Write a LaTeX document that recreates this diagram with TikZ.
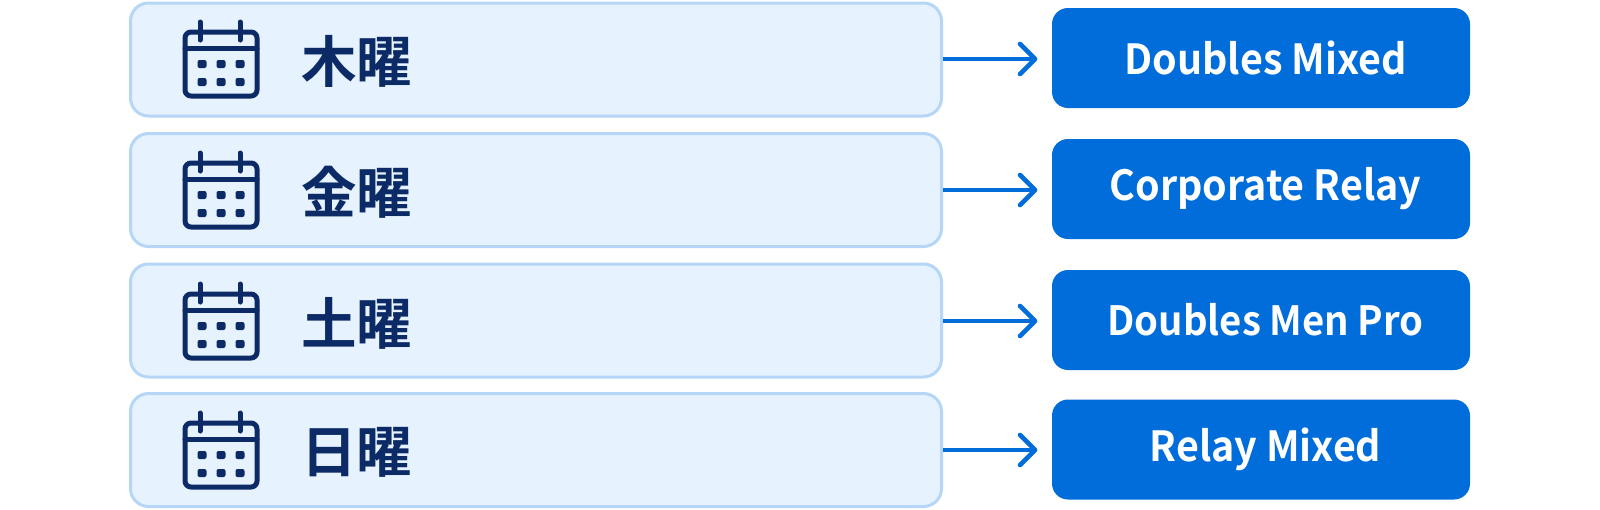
\documentclass[tikz,border=0pt]{standalone}
\usepackage{fontspec}
\setmainfont{Noto Sans CJK JP}
\newfontfamily\cjkb{Noto Sans CJK JP Bold}
\newfontfamily\latb[FakeStretch=0.95]{Noto Sans CJK JP Bold}
\definecolor{navy}{HTML}{0B2A66}
\definecolor{blue}{HTML}{016DDA}
\definecolor{boxfill}{HTML}{E6F2FD}
\definecolor{boxline}{HTML}{B5D6F7}
\tikzset{
  x=1pt,y=-1pt,
  daybox/.style={draw=boxline,fill=boxfill,line width=3pt,rounded corners=18pt,minimum width=811pt,minimum height=113pt,anchor=center,inner sep=0pt},
  evbox/.style={fill=blue,rounded corners=16pt,minimum width=418pt,minimum height=100pt,anchor=center,inner sep=0pt,text=white,font=\fontsize{41.5}{41.5}\latb},
  daylabel/.style={text=navy,font=\fontsize{55.5}{55.5}\cjkb,anchor=west,inner sep=0pt},
  conn/.style={draw=blue,line width=3.6pt},
  tipline/.style={draw=blue,line width=4.6pt,line cap=round,line join=round},
  calline/.style={draw=navy,line width=5pt,line cap=round,line join=round},
}
\newcommand{\calicon}[2]{%
  \begin{scope}[shift={(#1,#2)}]
    \draw[calline,rounded corners=6pt] (-36,-28) rectangle (36,36);
    \draw[calline] (-36,-12) -- (36,-12);
    \draw[calline] (-21,-38) -- (-21,-20);
    \draw[calline] (19,-38) -- (19,-20);
    \foreach \px in {-19,0,19}{\foreach \py in {4,22}{
      \fill[navy,rounded corners=2pt] (\px-4.5,\py-4) rectangle (\px+4.5,\py+4);
    }}
  \end{scope}}
\begin{document}
\begin{tikzpicture}
\useasboundingbox (0,0) rectangle (1600,509);
\node[daybox] (d1) at (536,59.5) {};
\node[daybox] (d2) at (536,190) {};
\node[daybox] (d3) at (536,320.5) {};
\node[daybox] (d4) at (536,450) {};
\node[evbox] (e1) at (1261,58) {\hspace{9pt}\raisebox{-1.5pt}{Doubles Mixed}};
\node[evbox] (e2) at (1261,189) {\hspace{9pt}\raisebox{-1.5pt}{Corporate Relay}};
\node[evbox] (e3) at (1261,320) {\hspace{9pt}\raisebox{-1.5pt}{\fontsize{40.3}{40.3}\selectfont Doubles Men Pro}};
\node[evbox] (e4) at (1261,449.5) {\hspace{9pt}\raisebox{-1.5pt}{Relay Mixed}};
\calicon{221}{60}
\calicon{221}{191}
\calicon{221}{322}
\calicon{221}{451}
\node[daylabel] (l1) at (301,61) {木曜};
\node[daylabel] (l2) at (301,192) {金曜};
\node[daylabel] (l3) at (301,323) {土曜};
\node[daylabel] (l4) at (301,452) {日曜};
\foreach \i/\yy in {1/59,2/190,3/321,4/450}{
  \coordinate (t\i) at (1035,\yy);
  \draw[conn] (d\i.east |- t\i) -- (t\i);
  \draw[tipline] (1020,\yy-15) -- (t\i) -- (1020,\yy+15);
}
\end{tikzpicture}
\end{document}
